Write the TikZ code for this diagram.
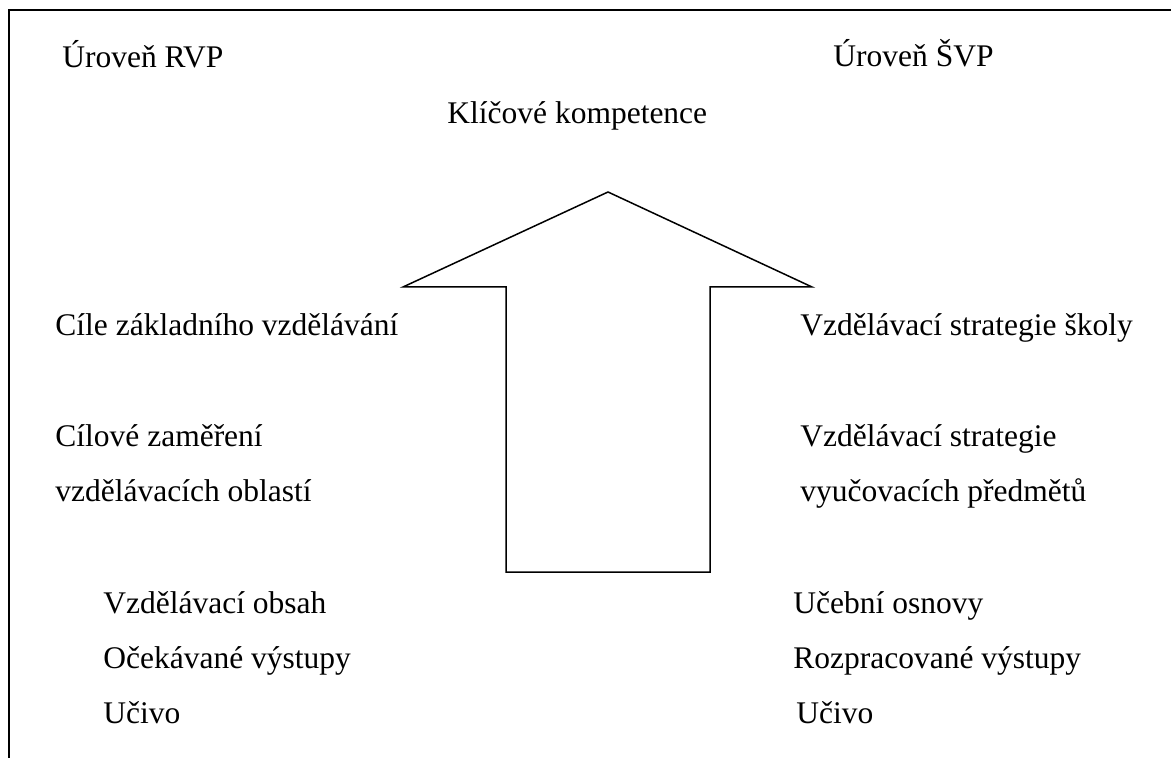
\documentclass[tikz,border=0pt]{standalone}
\usepackage{fontspec}
\setmainfont{Liberation Serif}
\tikzset{
    lbl/.style={anchor=base west, inner sep=0pt, font=\fontsize{15.75}{19}\selectfont},
}
\newcommand{\pageframe}{
    \draw[line width=1pt] (1171,10) -- (9,10) -- (9,758);
}

\begin{document}
\begin{tikzpicture}[x=0.5pt,y=-0.5pt]
        \useasboundingbox (0,0) rectangle (1171,758);
        \pageframe
        \node[lbl] (rvp) at (62,68) {Úroveň RVP};
        \node[lbl] (svp) at (833,67) {Úroveň ŠVP};
        \node[lbl] (kk) at (447,124) {Klíčové kompetence};
        \node[lbl] (cile) at (55,336) {Cíle základního vzdělávání};
        \node[lbl] (strat) at (800,336) {Vzdělávací strategie školy};
        \node[lbl] (zam) at (55,447) {Cílové zaměření};
        \node[lbl] (obl) at (55,502) {vzdělávacích oblastí};
        \node[lbl] (strat2) at (800,447) {Vzdělávací strategie};
        \node[lbl] (pred) at (800,502) {vyučovacích předmětů};
        \foreach \t/\n/\y in {Vzdělávací obsah/obs/613,Očekávané výstupy/ocek/668,Učivo/uciv/723}
        \node[lbl] (\n) at (103,\y) {\t};
        \foreach \t/\n/\y in {Učební osnovy/osn/613,Rozpracované výstupy/rozp/668}
        \node[lbl] (\n) at (793,\y) {\t};
        \node[lbl] (uciv2) at (796,723) {Učivo};
        \draw[line width=0.75pt]
        (506,572) --
        (506,287) --
        (403,287) --
        (608,192) --
        (812,287) --
        (710,287) --
        (710,572) -- cycle;
    \end{tikzpicture}
\end{document}
